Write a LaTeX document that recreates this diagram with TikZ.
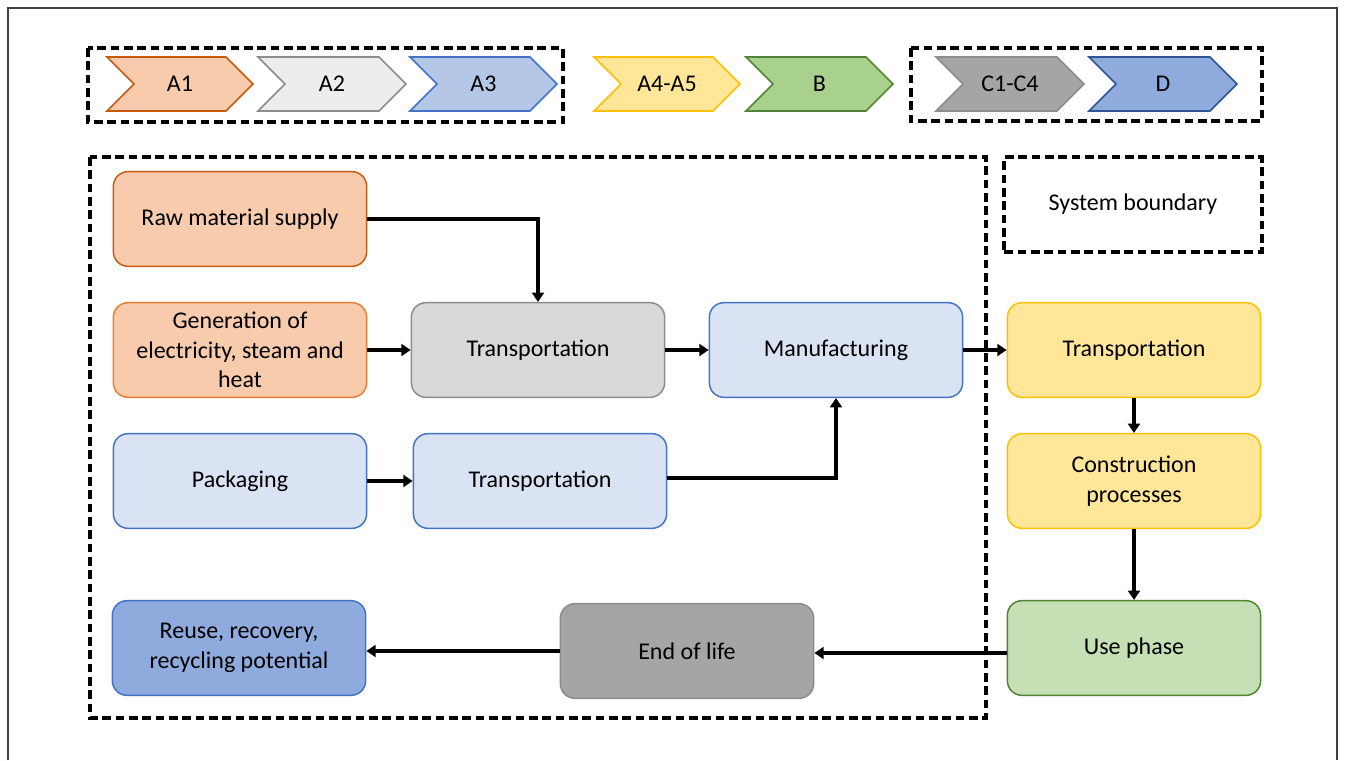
\documentclass[tikz,border=0pt]{standalone}
\usepackage{fontspec}
\setmainfont{Carlito}
\usetikzlibrary{arrows.meta}
\definecolor{orFill}{HTML}{F8CBAD}
\definecolor{orDark}{HTML}{C55A11}
\definecolor{orLine}{HTML}{ED7D31}
\definecolor{grLight}{HTML}{EDEDED}
\definecolor{grMid}{HTML}{D9D9D9}
\definecolor{grDark}{HTML}{A5A5A5}
\definecolor{grLine}{HTML}{8C8C8C}
\definecolor{blLight}{HTML}{DAE3F3}
\definecolor{blMid}{HTML}{B4C7E7}
\definecolor{blDark}{HTML}{8FAADC}
\definecolor{blLine}{HTML}{4472C4}
\definecolor{blLineD}{HTML}{2F5597}
\definecolor{yeFill}{HTML}{FFE699}
\definecolor{yeLine}{HTML}{FFC000}
\definecolor{gnFill}{HTML}{A9D18E}
\definecolor{gnLight}{HTML}{C5E0B4}
\definecolor{gnLine}{HTML}{548235}
\definecolor{frameCol}{HTML}{404040}
\newcommand\mychev[6]{%
  \draw[fill=#4, draw=#5, line width=1.2pt] (#2,57) -- ({#3-27},57) -- (#3,84) -- ({#3-27},111) -- (#2,111) -- ({#2+27},84) -- cycle;
  \node[lbl] (#1) at ({(#2+#3)/2},84) {#6};
}
\begin{document}
\begin{tikzpicture}[x=0.75pt,y=-0.75pt,
  lbl/.style={font=\fontsize{18}{22}\selectfont, text=black, inner sep=0pt},
  box/.style={draw, rounded corners=11pt, line width=1.1pt, minimum width=190pt, minimum height=71pt,
    align=center, font=\fontsize{18}{22}\selectfont, text=black, inner sep=2pt},
  dashbox/.style={draw=black, line width=3pt, dash pattern=on 6.5pt off 3.5pt},
  arr/.style={draw=black, line width=3pt, -{Triangle[length=7pt,width=9pt]}},
]
\useasboundingbox (0,0) rectangle (1345,760);
\fill[white] (0,0) rectangle (1345,760);
\draw[frameCol, line width=1pt] (8,760) -- (8,8) -- (1337,8) -- (1337,760);

% top row
\draw[dashbox] (88,48) rectangle (563,122);
\draw[dashbox] (911,48) rectangle (1262,121);
\mychev{a1}{107}{253}{orFill}{orDark}{A1}
\mychev{a2}{258}{406}{grLight}{grLine}{A2}
\mychev{a3}{410}{557}{blMid}{blLine}{A3}
\mychev{a45}{594}{740}{yeFill}{yeLine}{A4-A5}
\mychev{b}{746}{893}{gnFill}{gnLine}{B}
\mychev{c}{936}{1084}{grDark}{grLine}{C1-C4}
\mychev{d}{1089}{1237}{blDark}{blLineD}{D}

% system boundaries
\draw[dashbox] (90,157) rectangle (986,718);
\node[dashbox, minimum width=193pt, minimum height=71pt, font=\fontsize{18}{22}\selectfont] (sysb) at (1133,204.5) {System boundary};

% boxes
\node[box, fill=orFill, draw=orDark] (raw) at (240,219) {Raw material supply};
\node[box, fill=orFill, draw=orLine] (gen) at (240,350) {Generation of\\electricity, steam and\\heat};
\node[box, fill=grMid, draw=grLine] (tr1) at (538,350) {Transportation};
\node[box, fill=blLight, draw=blLine] (man) at (836,350) {Manufacturing};
\node[box, fill=blLight, draw=blLine] (pack) at (240,481) {Packaging};
\node[box, fill=blLight, draw=blLine] (tr2) at (540,481) {Transportation};
\node[box, fill=blDark, draw=blLine] (reuse) at (239,648) {Reuse, recovery,\\recycling potential};
\node[box, fill=grDark, draw=grLine] (eol) at (687,651) {End of life};
\node[box, fill=yeFill, draw=yeLine] (tr3) at (1134,350) {Transportation};
\node[box, fill=yeFill, draw=yeLine] (cons) at (1134,481) {Construction\\processes};
\node[box, fill=gnLight, draw=gnLine] (use) at (1134,648) {Use phase};

% connectors
\draw[arr] (raw.east) -| (tr1.north);
\draw[arr] (gen) -- (tr1);
\draw[arr] (tr1) -- (man);
\draw[arr] (man) -- (tr3);
\draw[arr] (tr3) -- (cons);
\draw[arr] (cons) -- (use);
\draw[arr] ([yshift=-3.75pt]use.west) -- ([yshift=-3.75pt]eol.east |- use.west);
\draw[arr] (eol.west) -- (reuse.east |- eol.west);
\draw[arr] (pack) -- (tr2);
\draw[arr] ([yshift=2pt]tr2.east) -| (man.south);
\end{tikzpicture}
\end{document}
